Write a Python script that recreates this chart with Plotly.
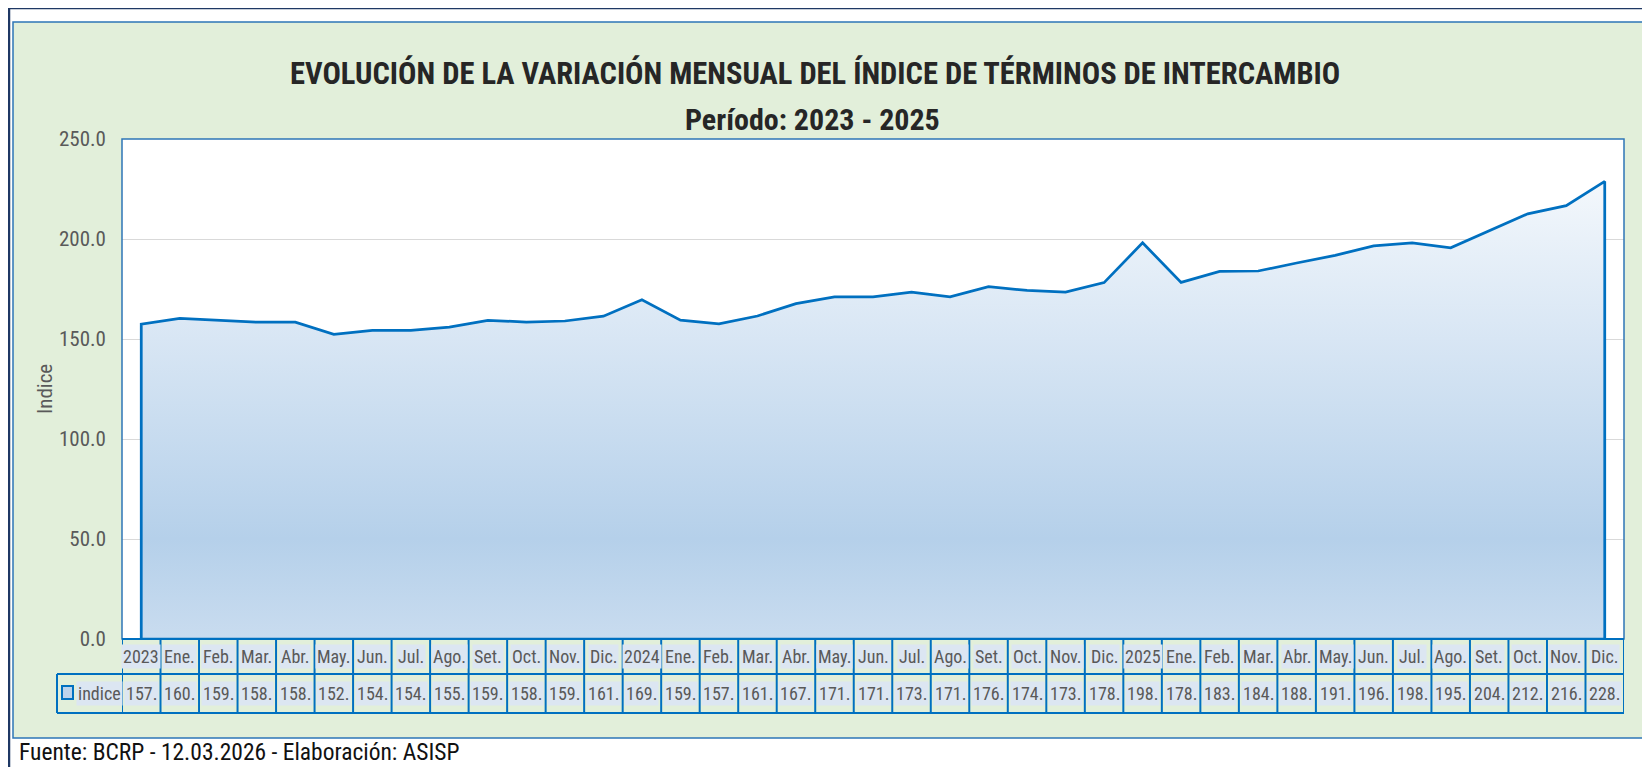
import math
import plotly.graph_objects as go

# ---------------- data ----------------
periods = ["2023", "Ene.", "Feb.", "Mar.", "Abr.", "May.", "Jun.", "Jul.", "Ago.", "Set.", "Oct.", "Nov.", "Dic.",
           "2024", "Ene.", "Feb.", "Mar.", "Abr.", "May.", "Jun.", "Jul.", "Ago.", "Set.", "Oct.", "Nov.", "Dic.",
           "2025", "Ene.", "Feb.", "Mar.", "Abr.", "May.", "Jun.", "Jul.", "Ago.", "Set.", "Oct.", "Nov.", "Dic."]
indice = [157.4, 160.3, 159.3, 158.4, 158.4, 152.3, 154.3, 154.3, 155.9, 159.3, 158.5, 159.0, 161.4,
          169.6, 159.4, 157.6, 161.5, 167.7, 171.1, 171.1, 173.4, 171.1, 176.2, 174.3, 173.4, 178.2,
          198.1, 178.3, 183.8, 184.0, 188.0, 191.8, 196.6, 198.0, 195.6, 204.2, 212.6, 216.7, 228.8]
series_name = "indice"
y_ticks = [0, 50, 100, 150, 200, 250]

title_text = "EVOLUCIÓN DE LA VARIACIÓN MENSUAL DEL ÍNDICE DE TÉRMINOS DE INTERCAMBIO"
subtitle_text = "Período: 2023 - 2025"
y_title = "Indice"
footer_text = "Fuente: BCRP - 12.03.2026 - Elaboración: ASISP"

# ---------------- layout geometry (screen pixels) ----------------
OFF = 8                       # page body margin
WIN_W, WIN_H = 1650, 775
W, H = WIN_W - OFF, WIN_H - 2 * OFF
PX0, PX1, PY0, PY1 = 122, 1624, 139, 639   # plot area (screen coords)


def xp(px):
    return (px - PX0) / (PX1 - PX0)


def yp(py):
    return (PY1 - py) / (PY1 - PY0)


FONT = "Roboto Condensed, DejaVu Sans Condensed, Liberation Sans Narrow, Lato, sans-serif"
BLUE = "#0070c0"
BORDER = "#2e75b6"
GRAY = "#595959"
GREEN = "#e2efda"

n = len(periods)
idx = list(range(n))

fig = go.Figure()
fig.add_trace(go.Scatter(
    x=[idx[0]] + idx + [idx[-1], idx[0]],
    y=[0] + indice + [0, 0],
    mode="lines",
    fill="toself",
    line=dict(color=BLUE, width=2.75),
    fillgradient=dict(
        type="vertical", start=y_ticks[0], stop=y_ticks[-1],
        colorscale=[[0, "#c9dcef"], [0.2, "#b5d0ea"], [0.6, "#d8e6f4"],
                    [0.8, "#e9f1f9"], [0.92, "#f4f8fc"], [1, "#fbfcfe"]]),
    hoverinfo="skip",
    showlegend=False,
))

shapes = []
# outer dark frame
shapes.append(dict(type="rect", xref="paper", yref="paper", x0=xp(9), y0=yp(8), x1=xp(1700), y1=yp(820),
                   line=dict(color="#1f3864", width=2.5), fillcolor="rgba(0,0,0,0)", layer="above"))
# green panel
shapes.append(dict(type="rect", xref="paper", yref="paper", x0=xp(13), y0=yp(22), x1=xp(1648), y1=yp(738),
                   line=dict(color=BORDER, width=1.5), fillcolor=GREEN, layer="below"))
# white plot area
shapes.append(dict(type="rect", xref="paper", yref="paper", x0=0, y0=0, x1=1, y1=1,
                   line=dict(width=0), fillcolor="white", layer="below"))
# plot border
shapes.append(dict(type="rect", xref="paper", yref="paper", x0=0, y0=0, x1=1, y1=1,
                   line=dict(color=BORDER, width=1.5), fillcolor="rgba(0,0,0,0)", layer="above"))

# data table grid
HDR_TOP, HDR_BOT, ROW_BOT, LEG_LEFT = 639, 674, 713, 57
for i in range(n + 1):
    shapes.append(dict(type="line", xref="x", yref="paper", x0=i - 0.5, x1=i - 0.5,
                       y0=yp(HDR_TOP), y1=yp(ROW_BOT), line=dict(color=BLUE, width=2), layer="above"))
shapes.append(dict(type="line", xref="x", yref="paper", x0=-0.5, x1=n - 0.5,
                   y0=yp(HDR_TOP), y1=yp(HDR_TOP), line=dict(color=BLUE, width=2), layer="above"))
for yy in (HDR_BOT, ROW_BOT):
    shapes.append(dict(type="line", xref="paper", yref="paper", x0=xp(LEG_LEFT), x1=xp(PX1),
                       y0=yp(yy), y1=yp(yy), line=dict(color=BLUE, width=2), layer="above"))
shapes.append(dict(type="line", xref="paper", yref="paper", x0=xp(LEG_LEFT), x1=xp(LEG_LEFT),
                   y0=yp(HDR_BOT), y1=yp(ROW_BOT), line=dict(color=BLUE, width=2), layer="above"))
# legend key
shapes.append(dict(type="rect", xref="paper", yref="paper", x0=xp(62), x1=xp(73), y0=yp(699), y1=yp(686),
                   line=dict(color=BLUE, width=2), fillcolor="#bcd3ec", layer="above"))

CELL_SIZE = 18
annotations = []
hdr_y = yp((HDR_TOP + HDR_BOT) / 2)
row_y = yp((HDR_BOT + ROW_BOT) / 2)
for i, (lab, v) in enumerate(zip(periods, indice)):
    annotations.append(dict(x=i, y=hdr_y, xref="x", yref="paper", text=lab, showarrow=False,
                            xanchor="center", yanchor="middle", bgcolor="#dce6f2", borderpad=1,
                            font=dict(family=FONT, size=CELL_SIZE, color=GRAY)))
    annotations.append(dict(x=i, y=row_y, xref="x", yref="paper", text=f"{math.floor(v)}.", showarrow=False,
                            xanchor="center", yanchor="middle", bgcolor="#dce6f2", borderpad=1,
                            font=dict(family=FONT, size=CELL_SIZE, color=GRAY)))
annotations.append(dict(x=xp(76), y=row_y, xref="paper", yref="paper", text=series_name, showarrow=False,
                        xanchor="left", yanchor="middle", bgcolor="#dce6f2", borderpad=1,
                        font=dict(family=FONT, size=CELL_SIZE, color=GRAY)))
# titles
annotations.append(dict(x=xp(815), y=yp(73), xref="paper", yref="paper", text=f"<b>{title_text}</b>",
                        showarrow=False, xanchor="center", yanchor="middle",
                        font=dict(family=FONT, size=30.5, color="#262626")))
annotations.append(dict(x=xp(812), y=yp(120), xref="paper", yref="paper", text=f"<b>{subtitle_text}</b>",
                        showarrow=False, xanchor="center", yanchor="middle",
                        font=dict(family=FONT, size=30, color="#262626")))
annotations.append(dict(x=xp(45), y=yp(389), xref="paper", yref="paper", text=y_title, textangle=-90,
                        showarrow=False, xanchor="center", yanchor="middle",
                        font=dict(family=FONT, size=21, color=GRAY)))
annotations.append(dict(x=xp(17), y=yp(752), xref="paper", yref="paper", text=footer_text,
                        showarrow=False, xanchor="left", yanchor="middle",
                        font=dict(family=FONT, size=23.5, color="#111111")))

fig.update_layout(
    width=W, height=H,
    margin=dict(l=PX0 - OFF, r=WIN_W - PX1, t=PY0 - OFF, b=(OFF + H) - PY1, pad=0),
    paper_bgcolor="white",
    plot_bgcolor="rgba(0,0,0,0)",
    showlegend=False,
    shapes=shapes,
    annotations=annotations,
    xaxis=dict(range=[-0.5, n - 0.5], showticklabels=False, showgrid=False, zeroline=False,
               showline=False, ticks="", fixedrange=True),
    yaxis=dict(range=[y_ticks[0], y_ticks[-1]], tickvals=y_ticks, tickformat=".1f",
               showgrid=True, gridcolor="#d9d9d9", gridwidth=1, zeroline=False, showline=False,
               ticks="", ticklabelstandoff=15,
               tickfont=dict(family=FONT, size=21, color=GRAY), fixedrange=True),
    font=dict(family=FONT),
)

fig.write_html("out.html", config={"displayModeBar": False})
